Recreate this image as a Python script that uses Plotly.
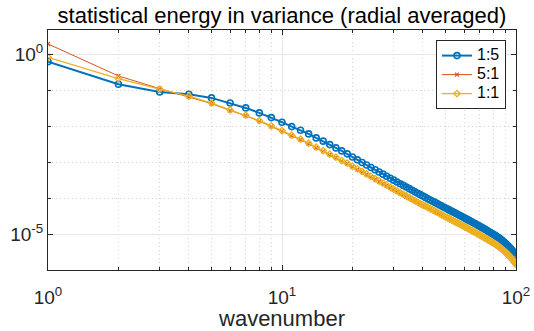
import plotly.graph_objects as go

# wavenumbers 1..100, energy values (stored as log10)
wavenumber = list(range(1, 101))

energy_1to5_log10 = [
    -0.192, -0.822, -1.036, -1.100, -1.203, -1.343, -1.482, -1.621, -1.752, -1.880,
    -2.003, -2.103, -2.206, -2.318, -2.409, -2.504, -2.596, -2.680, -2.763, -2.852,
    -2.929, -3.003, -3.074, -3.141, -3.206, -3.268, -3.328, -3.385, -3.441, -3.495,
    -3.546, -3.595, -3.642, -3.688, -3.733, -3.776, -3.818, -3.859, -3.900, -3.939,
    -3.976, -4.012, -4.047, -4.082, -4.116, -4.148, -4.181, -4.212, -4.243, -4.273,
    -4.302, -4.331, -4.359, -4.387, -4.414, -4.440, -4.467, -4.492, -4.517, -4.542,
    -4.568, -4.593, -4.617, -4.642, -4.665, -4.689, -4.712, -4.735, -4.758, -4.780,
    -4.804, -4.827, -4.850, -4.873, -4.895, -4.918, -4.939, -4.961, -4.982, -5.003,
    -5.026, -5.049, -5.072, -5.094, -5.116, -5.144, -5.172, -5.199, -5.226, -5.253,
    -5.284, -5.315, -5.346, -5.376, -5.406, -5.446, -5.486, -5.525, -5.564, -5.602,
]

energy_5to1_log10 = [
    0.301, -0.591, -0.944, -1.171, -1.362, -1.553, -1.700, -1.851, -1.998, -2.129,
    -2.257, -2.369, -2.480, -2.592, -2.686, -2.787, -2.870, -2.965, -3.037, -3.121,
    -3.196, -3.268, -3.339, -3.406, -3.471, -3.533, -3.593, -3.650, -3.706, -3.760,
    -3.811, -3.860, -3.907, -3.953, -3.998, -4.041, -4.083, -4.124, -4.165, -4.204,
    -4.231, -4.267, -4.302, -4.337, -4.371, -4.403, -4.436, -4.467, -4.498, -4.528,
    -4.557, -4.586, -4.614, -4.642, -4.669, -4.695, -4.722, -4.747, -4.772, -4.797,
    -4.823, -4.848, -4.872, -4.897, -4.920, -4.944, -4.967, -4.990, -5.013, -5.035,
    -5.059, -5.082, -5.105, -5.128, -5.150, -5.173, -5.194, -5.216, -5.237, -5.258,
    -5.281, -5.304, -5.327, -5.349, -5.371, -5.399, -5.427, -5.454, -5.481, -5.508,
    -5.539, -5.570, -5.601, -5.631, -5.661, -5.701, -5.741, -5.780, -5.819, -5.857,
]

energy_1to1_log10 = [
    -0.070, -0.666, -0.961, -1.156, -1.347, -1.538, -1.685, -1.836, -1.983, -2.114,
    -2.242, -2.354, -2.465, -2.577, -2.671, -2.772, -2.855, -2.950, -3.022, -3.106,
    -3.181, -3.253, -3.324, -3.391, -3.456, -3.518, -3.578, -3.635, -3.691, -3.745,
    -3.796, -3.845, -3.892, -3.938, -3.983, -4.026, -4.068, -4.109, -4.150, -4.189,
    -4.216, -4.252, -4.287, -4.322, -4.356, -4.388, -4.421, -4.452, -4.483, -4.513,
    -4.542, -4.571, -4.599, -4.627, -4.654, -4.680, -4.707, -4.732, -4.757, -4.782,
    -4.808, -4.833, -4.857, -4.882, -4.905, -4.929, -4.952, -4.975, -4.998, -5.020,
    -5.044, -5.067, -5.090, -5.113, -5.135, -5.158, -5.179, -5.201, -5.222, -5.243,
    -5.266, -5.289, -5.312, -5.334, -5.356, -5.384, -5.412, -5.439, -5.466, -5.493,
    -5.524, -5.555, -5.586, -5.616, -5.646, -5.686, -5.726, -5.765, -5.804, -5.842,
]

x_ticks = [1, 10, 100]
x_tick_labels = ["10<sup>0</sup>", "10<sup>1</sup>", "10<sup>2</sup>"]
y_ticks = [1, 1e-5]
y_tick_labels = ["10<sup>0</sup>", "10<sup>-5</sup>"]
x_minor = [2, 3, 4, 5, 6, 7, 8, 9, 20, 30, 40, 50, 60, 70, 80, 90]
y_minor = [1e-1, 1e-2, 1e-3, 1e-4]

FONT = "Liberation Sans, Arial, sans-serif"
AX = "#262626"

series = [
    ("1:5", energy_1to5_log10, "#0072BD", 2, dict(symbol="circle-open", size=6, line=dict(width=1.6))),
    ("5:1", energy_5to1_log10, "#D95319", 1, dict(symbol="x-thin-open", size=4, line=dict(width=1.2))),
    ("1:1", energy_1to1_log10, "#EDB120", 1.3, dict(symbol="diamond-open", size=5, line=dict(width=1.3))),
]

fig = go.Figure()
for name, vals, color, lw, marker in series:
    marker["color"] = color
    marker["line"]["color"] = color
    fig.add_trace(go.Scatter(
        x=wavenumber,
        y=[10 ** v for v in vals],
        mode="lines+markers",
        # small legend font keeps rows tight, the span sets the visible size
        name=f'<span style="font-size:16px">{name}</span>',
        line=dict(color=color, width=lw),
        marker=marker,
    ))

axis_common = dict(
    type="log", automargin=False,
    showline=True, linecolor=AX, linewidth=1, mirror="ticks",
    ticks="inside", ticklen=5, tickcolor=AX,
    showgrid=True, gridcolor="#e6e6e6", gridwidth=1,
    zeroline=False,
    tickfont=dict(family=FONT, size=19, color=AX),
)
minor_common = dict(ticks="inside", ticklen=3, tickcolor=AX,
                    showgrid=True, gridcolor="#d2d2d2", griddash="1px,3px", gridwidth=1)

fig.update_xaxes(
    **axis_common,
    range=[0, 2],
    tickmode="array", tickvals=x_ticks, ticktext=x_tick_labels,
    ticklabelstandoff=10,
    minor=dict(tickvals=x_minor, **minor_common),
    title=dict(text="wavenumber", font=dict(family=FONT, size=22, color=AX), standoff=6),
)
fig.update_yaxes(
    **axis_common,
    range=[-6, 0.69],
    tickmode="array", tickvals=y_ticks, ticktext=y_tick_labels,
    ticklabelstandoff=0,
    minor=dict(tickvals=y_minor, **minor_common),
)

fig.update_layout(
    width=534, height=331,
    margin=dict(l=48, r=18, t=30, b=61),
    paper_bgcolor="white", plot_bgcolor="white",
    font=dict(family=FONT, color=AX),
    title=dict(text="statistical energy in variance (radial averaged)",
               x=0.5, xref="paper", xanchor="center",
               y=1 - 15.5 / 331, yref="container", yanchor="middle",
               font=dict(family=FONT, size=22, color="black")),
    legend=dict(x=0.9786, xanchor="right", y=0.958, yanchor="top",
                bgcolor="white", bordercolor=AX, borderwidth=1,
                font=dict(family=FONT, size=11, color="black"),
                itemwidth=30, tracegroupgap=0),
    showlegend=True,
)

# the page's default body margin would shift the figure by 8px
fig.write_html("out.html", config={"displayModeBar": False},
               post_script="document.body.style.margin = '0';")
